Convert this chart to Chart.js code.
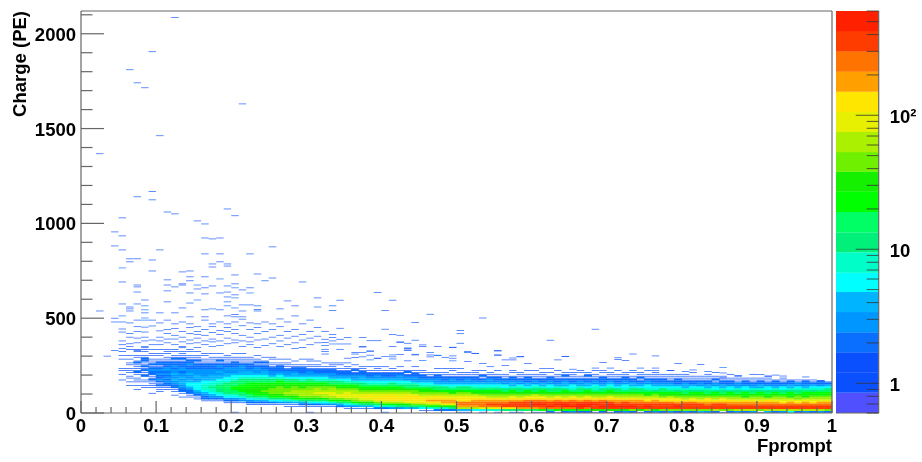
<!DOCTYPE html>
<html><head><meta charset="utf-8">
<style>html,body{margin:0;padding:0;background:#fff;overflow:hidden}
#wrap{position:relative;width:922px;height:462px}
canvas{position:absolute;top:0;filter:blur(0.4px)}</style>
<script src="https://cdn.jsdelivr.net/npm/chart.js@4"></script>
</head><body><div id="wrap"><canvas id="main" width="922" height="462" style="left:0"></canvas><canvas id="bar" width="86" height="462" style="left:836px"></canvas></div>
<script>
const xTicks=[0,0.1,0.2,0.3,0.4,0.5,0.6,0.7,0.8,0.9,1];
const yTicks=[0,500,1000,1500,2000];
const zTicks=[0.6,0.7,0.8,0.9,1,2,3,4,5,6,7,8,9,10,20,30,40,50,60,70,80,90,100,200,300,400,500,600];
const zContours=[0.6,0.85,1.2,1.7,2.4,3.4,4.8,6.7,9.5,13.4,19,27,38,53,75,106,150,212,300,424,600];
const zColors=['#5050ff','#0a50ff','#0a50ff','#0a6eff','#0096ff','#00b4ff','#00ffff','#00ffc8','#00f07a','#00ff64','#00ff00','#14f000','#6ef000','#aaf000','#e6f000','#ffe600','#ffa000','#ff7300','#ff3c00','#ff2000'];
const firstDenseColumn=5;
// each column: first entry = first row (10 PE rows), then counts going upward
const denseColumns=[
[17,1,0,0,1,0,1,1,0,0,0,0,1,0,1,0,1],
[14,1,0,1,0,1,1,0,1,1,1,0,1,1,0,1,0,1,0,0,1],
[12,1,0,1,0,1,1,1,0,1,2,1,1,1,1,2,1,0,1,1,0,1,1],
[13,1,1,0,1,1,0,2,1,1,2,1,2,1,1,2,2,1,1,0,1,1,1],
[10,1,0,0,1,1,1,1,2,1,1,2,2,3,2,1,2,1,1,1,0,1,1,0,1],
[11,1,1,1,2,1,2,3,2,2,3,2,3,2,1,2,2,1,1,0,1,1,0,1],
[12,1,1,2,2,3,2,3,2,3,2,3,3,2,2,2,1,1,1,0,1,1,1],
[9,1,0,1,1,2,2,3,3,4,3,3,4,3,3,2,3,2,2,1,2,1,1,0,1,1],
[8,1,0,1,2,2,3,3,4,4,3,4,3,3,2,3,3,2,2,2,1,2,1,1,1,1,0,1],
[8,1,1,2,2,3,4,6,6,4,4,3,3,4,3,3,2,2,3,2,2,1,1,1,0,1,1],
[7,1,1,2,3,4,6,6,6,6,4,3,4,4,3,3,3,2,2,2,1,2,1,1,1,0,1],
[6,1,2,2,3,4,6,8,8,8,6,6,4,4,3,3,3,3,2,2,2,1,1,1,0,1,1],
[6,1,2,3,4,6,8,8,11,8,8,6,4,4,4,3,3,3,2,2,2,1,1,1,1,0,1],
[6,1,2,3,6,8,11,11,16,11,8,8,6,4,4,3,4,3,2,3,2,1,2,1,1,0,1],
[5,1,2,3,6,8,11,16,16,16,16,11,8,6,6,4,4,3,3,3,2,2,1,1,1,1,1],
[0,1,0,0,0,0,1,2,3,6,8,16,16,22,22,16,16,11,8,6,6,4,3,3,3,2,2,2,1,1,1,0,1],
[5,1,3,4,8,11,16,22,22,22,22,16,16,11,8,6,4,4,3,3,3,2,1,1,1,1,0,1],
[4,1,2,3,6,11,16,22,32,32,22,22,22,16,11,8,6,4,4,3,2,2,2,1,1,1,1],
[4,1,2,4,8,11,22,32,32,32,32,22,22,16,11,8,6,4,3,3,3,2,1,2,1,1,0,1],
[4,1,2,4,8,16,22,32,45,32,32,32,22,16,11,8,6,4,4,3,2,2,1,2,1,0,1],
[4,1,2,6,11,22,32,45,45,45,32,32,22,16,11,8,4,3,3,2,2,1,1,1,0,1,1],
[4,1,3,6,11,22,32,45,45,45,45,32,22,22,16,8,6,4,3,2,2,2,1,1,0,1],
[3,1,1,3,8,16,32,45,63,45,45,32,32,22,16,11,6,4,3,3,2,1,1,1,1,0,1],
[3,1,1,4,8,22,32,45,63,63,45,45,32,22,16,11,6,4,4,3,2,2,1,1,0,1],
[3,1,2,4,11,22,45,63,63,63,45,32,32,22,16,8,6,4,3,2,2,2,1,1,0,0,1],
[0,1,0,0,1,2,6,11,32,45,63,63,63,45,45,32,22,16,11,6,4,3,3,2,1,1,1,0,1,1],
[3,1,2,6,16,32,45,63,90,63,63,45,32,22,16,8,6,4,3,2,2,1,1,1,0,1],
[3,1,3,6,16,32,63,63,90,63,45,45,32,22,11,8,6,4,3,2,2,1,1,0,1],
[3,1,3,8,22,45,63,90,90,63,63,45,32,16,11,8,4,3,3,2,2,1,1,1,1],
[3,2,4,11,22,45,90,90,63,63,45,32,22,16,11,6,4,3,2,2,1,1,0,1,1],
[2,1,3,6,16,32,63,90,90,90,63,45,32,22,16,8,6,4,3,2,2,1,1,1,0,1],
[2,1,3,8,22,45,63,90,90,63,63,45,32,22,11,8,4,3,3,2,1,2,1,0,1],
[2,1,4,11,32,63,90,90,90,63,45,32,22,16,11,6,4,4,3,2,2,1,1,1],
[2,1,4,11,32,63,90,125,90,63,45,32,22,16,8,6,4,3,2,2,1,1,0,1],
[2,2,6,16,45,90,125,90,90,63,45,32,22,16,8,6,4,3,3,2,1,1,1,1],
[0,1,0,2,8,22,63,90,125,125,90,63,45,32,22,11,8,6,4,3,2,2,1,1,0,1],
[2,3,8,22,63,125,125,125,90,63,45,32,22,16,11,6,4,3,2,2,1,1,1],
[2,3,11,32,63,125,125,90,90,63,45,32,22,11,8,6,4,3,3,2,1,1,0,1],
[2,4,11,32,90,125,125,125,90,63,45,32,16,11,8,6,3,3,2,1,2,1],
[2,4,16,45,90,125,125,125,90,45,45,22,16,11,8,4,3,3,2,2,1,1,0,1],
[1,1,6,16,45,125,125,125,90,63,45,32,22,16,8,6,4,3,2,2,1,1,1],
[1,1,6,22,63,125,175,125,90,63,45,32,22,11,8,6,4,3,2,1,1,1],
[1,2,8,22,63,125,175,125,125,63,45,32,16,11,8,4,3,3,2,2,1,1,0,1],
[1,2,8,32,90,175,175,125,90,63,45,22,16,11,6,4,3,2,2,1,1,1,0,1],
[1,2,11,32,90,175,175,125,90,63,32,22,16,8,6,4,3,3,2,1,1,0,1,1],
[0,1,4,63,175,250,250,125,125,90,63,45,32,16,11,6,4,3,2,2,1,1,1,0,1],
[0,1,4,63,175,250,250,125,125,90,63,45,22,16,11,6,4,3,3,2,1,1,1],
[0,0,6,63,175,250,250,175,125,90,63,32,22,16,8,6,4,3,2,2,1,1,1,1],
[0,1,6,90,250,250,250,175,125,90,45,32,22,11,8,6,4,3,2,1,2,1,0,1],
[1,8,90,250,350,250,175,125,63,45,32,22,16,8,6,4,3,3,2,1,1,1],
[0,1,8,125,250,350,250,175,125,63,45,32,22,11,8,6,4,3,2,2,1,1,0,1],
[0,0,11,125,350,350,250,175,90,63,45,32,16,11,6,6,3,3,2,1,1,1],
[0,1,11,125,350,350,350,175,125,90,45,32,22,11,8,4,4,3,2,2,1,0,1,1],
[0,1,11,175,350,350,350,175,125,63,45,32,16,11,8,6,3,3,2,1,1,1,1],
[0,0,16,175,350,350,350,250,125,90,45,32,22,11,6,4,4,2,2,2,1,1,0,1],
[0,1,16,175,350,500,350,250,125,90,63,32,16,11,8,6,3,3,2,1,1,1,0,1],
[0,1,22,250,350,500,350,250,125,90,45,32,22,11,8,4,4,2,2,1,1,1,1],
[0,2,16,250,500,350,350,175,125,63,45,32,16,11,6,6,3,3,2,2,1,0,1],
[0,1,22,250,350,500,350,250,125,90,45,22,16,11,8,4,3,2,2,1,1,1,0,1],
[0,2,22,250,500,500,350,175,125,63,45,32,22,11,6,4,4,3,2,1,2,1,1],
[0,3,22,250,500,350,350,250,125,90,45,32,16,8,6,6,3,2,2,1,1,1,1],
[0,2,32,350,500,500,350,175,125,63,45,22,16,11,8,4,3,3,2,1,1,0,1,1],
[0,2,22,250,500,500,350,250,125,90,45,32,22,11,6,4,4,2,2,1,2,1,1],
[0,1,32,350,350,500,350,175,125,63,45,32,16,8,8,6,3,3,2,1,1,1,0,1],
[0,2,32,350,500,350,350,250,125,63,45,22,16,11,6,4,3,2,2,2,1,0,1,1],
[0,1,32,350,500,500,350,175,125,90,45,32,22,11,8,6,4,3,2,1,1,1,1],
[0,2,32,350,500,350,250,175,125,63,45,32,16,11,6,4,3,2,2,1,1,1,0,1],
[0,3,32,350,500,350,350,175,90,63,45,22,16,8,6,6,3,3,2,2,1,1,1],
[0,2,45,350,500,350,250,175,125,63,45,32,16,11,8,4,4,2,2,1,1,0,1,1],
[0,1,32,350,350,350,250,175,90,63,45,22,16,11,6,4,3,2,1,2,1,1,1],
[0,2,45,350,500,350,250,125,90,63,32,22,16,8,6,6,3,3,2,1,1,1,0,1],
[0,3,32,350,350,350,250,175,90,63,45,22,11,8,6,4,3,2,2,1,1,1,1],
[0,2,45,350,350,350,250,125,90,45,32,22,16,11,6,4,3,2,2,1,1,1],
[0,3,45,350,350,350,250,125,90,63,32,22,16,8,6,4,3,2,1,1,1,1,0,1],
[0,2,45,350,500,350,175,125,90,45,32,22,11,8,6,4,2,2,2,1,1,1],
[0,3,45,350,350,350,250,125,63,45,32,16,16,8,4,4,3,2,1,1,1,1],
[0,2,45,350,350,350,250,125,90,45,32,22,11,8,6,4,2,2,1,1,1,0,1],
[0,4,45,350,350,350,175,125,63,45,32,22,11,8,6,3,3,2,1,1,1],
[0,3,45,350,350,250,175,125,90,45,32,16,16,8,4,4,2,2,1,1,1,1],
[0,2,63,350,350,350,175,125,63,45,22,22,11,6,6,3,3,1,2,1,1,0,1],
[0,1,45,350,350,350,175,125,90,45,32,16,11,8,4,4,2,2,1,1,1],
[0,2,45,350,350,250,175,125,63,45,22,22,11,6,6,3,2,2,1,1,0,1],
[0,3,63,350,350,250,175,90,63,45,32,16,11,8,4,3,3,1,1,1,1],
[0,2,63,350,350,250,175,125,63,32,22,22,11,6,6,3,2,2,1,1],
[0,3,63,350,350,250,175,90,63,45,32,16,11,8,4,3,2,1,1,1,0,1],
[0,1,45,350,350,250,175,90,63,45,22,22,11,8,4,4,2,2,1,1],
[0,4,63,350,350,250,175,125,63,32,22,16,11,6,6,3,2,1,1,1,1],
[0,2,63,350,350,250,175,90,63,45,32,22,11,8,4,3,2,2,1],
[0,3,63,350,350,250,125,90,63,45,22,16,11,6,6,3,2,1,1,1],
[0,6,63,350,350,250,175,90,63,32,22,22,11,8,4,4,2,2,1],
[0,2,63,350,350,250,125,90,45,45,32,16,11,8,6,3,3,1,1],
[0,3,63,350,350,250,175,90,63,32,22,22,16,8,4,3,2,2,1],
[0,2,63,350,350,250,125,90,63,45,32,22,11,8,6,4,2,1,1],
[0,3,63,350,350,250,175,90,63,45,22,22,16,8,6,3,2,2],
[0,2,45,350,350,250,175,90,63,45,32,22,16,11,6,4,2,1]
];
// isolated entries: [column, charge (PE), count]
const sparseCells=[
[12,2086,1],[9,1905,1],[6,1810,1],[7,1741,1],[8,1715,1],[21,1630,1],[10,1462,1],[2,1367,1],
[9,1168,1],[7,1140,1],[9,1124,1],[11,1060,1],[12,1050,1],[19,1076,1],[20,1040,1],[5,1029,1],[15,1013,1],[16,997,1],
[4,955,1],[5,934,1],[16,923,1],[17,918,1],[18,923,1],[4,881,1],[5,860,1],[10,860,1],[25,876,1],[18,839,1],[22,839,1],[16,839,1],
[6,813,1],[7,813,1],[9,807,1],[6,797,1],[17,786,1],[17,770,1],[18,797,1],[19,786,1],[19,775,1],[5,765,2],[9,749,1],[13,744,1],[14,749,1],
[14,718,1],[14,697,1],[20,728,1],[23,733,1],[25,712,1],[16,718,1],[18,707,2],[11,702,1],[5,691,1],[13,681,1],[13,675,1],[24,697,1],[29,691,1],
[7,675,1],[7,665,1],[7,638,1],[11,675,1],[12,665,1],[15,675,2],[15,654,1],[16,660,1],[17,670,1],[19,670,1],[19,638,1],[18,633,1],
[20,681,1],[20,660,2],[21,649,1],[22,660,1],[22,633,2],[11,644,1],[14,633,1],[16,628,1],[19,612,1],[20,623,1],[20,607,2],[31,607,1],
[27,591,1],[28,565,1],[31,559,1],[8,596,1],[7,575,1],[8,565,2],[5,575,1],[6,559,1],[6,549,1],[6,538,1],[8,544,2],[11,586,1],[13,554,1],[14,580,1],
[15,596,2],[17,549,2],[16,544,1],[18,544,1],[19,586,1],[19,565,2],[20,554,2],[21,570,1],[22,570,1],[23,565,1],[23,545,1],[23,538,1],[21,538,1],[26,549,1],
[2,538,1],[10,528,1],[12,528,1],[8,528,1],[5,512,2],[8,501,2],[14,507,1],[16,507,1],[19,512,1],[20,520,1],[20,507,1],[21,507,1],[28,512,1],[26,496,1],
[3,300,1],[4,500,1],[4,480,1],[4,330,1],[5,480,1],[5,443,1],[5,427,1],[5,380,1],[5,360,1],[5,340,1],
[6,475,1],[6,420,1],[6,400,1],[6,365,1],[6,350,1],[7,490,1],[7,455,1],[7,430,1],[7,395,1],[7,370,1],[7,330,1],
[8,490,2],[8,453,1],[8,427,1],[8,400,1],[8,380,1],[8,350,1],[9,490,1],[9,459,1],[9,385,1],[9,360,1],[10,475,1],[10,433,1],[10,400,1],[10,380,1],[10,360,1],
[11,490,1],[11,440,1],[11,420,1],[11,390,1],[11,370,1],[12,470,1],[12,445,1],[12,410,1],[12,390,1],[12,360,1],[13,480,1],[13,430,1],[13,400,1],[13,375,1],[13,350,1],
[14,470,1],[14,450,1],[14,420,1],[14,385,1],[14,365,1],[15,455,1],[15,430,1],[15,415,1],[15,395,1],[15,370,1],[15,345,1],[16,490,1],[16,440,1],[16,410,1],[16,380,1],[16,360,1],
[17,470,1],[17,455,1],[17,425,1],[17,390,1],[17,375,1],[17,350,1],[18,480,1],[18,435,1],[18,415,1],[18,380,1],[18,355,1],[19,470,1],[19,450,1],[19,430,1],[19,395,1],[19,365,1],
[20,480,1],[20,440,1],[20,420,1],[20,385,1],[20,370,1],[21,495,1],[21,460,1],[21,410,1],[21,380,1],[21,350,1],[22,475,1],[22,440,1],[22,400,1],[22,375,1],[22,360,1],
[23,470,1],[23,450,1],[23,420,1],[23,385,1],[23,345,1],[24,480,1],[24,430,1],[24,390,1],[24,355,1],[25,470,1],[25,440,1],[25,400,1],[25,365,1],[26,455,1],[26,410,1],[26,380,1],[26,350,1],
[27,480,1],[27,430,1],[27,395,1],[27,360,1],[28,440,1],[28,405,1],[28,370,1],[28,340,1],[29,470,1],[29,415,1],[29,385,1],[29,345,1],[30,490,1],[30,430,1],[30,395,1],[30,360,1],[31,450,1],[31,405,1],[31,370,1],
[39,635,1],[34,595,1],[41,595,1],[33,565,1],[33,540,1],[40,540,1],[46,521,1],[53,501,1],[44,477,1],[34,447,1],[40,442,1],[50,436,1],[50,418,1],[68,442,1],[32,431,1],[33,415,1],[33,399,1],[34,389,1],[35,398,1],[37,398,1],[41,415,1],[42,410,1],
[39,381,1],[38,381,1],[44,384,1],[62,384,1],[42,375,1],[43,368,1],[45,359,1],[50,368,1],[32,389,1],[32,371,1],[32,357,1],[32,336,1],[32,324,1],[32,311,1],[33,380,1],[33,364,2],[34,364,1],[34,336,1],[35,364,1],[35,289,1],
[36,320,1],[36,311,1],[37,348,1],[37,318,1],[37,296,1],[38,326,1],[38,305,1],[39,289,1],[40,299,1],[41,350,1],[41,306,2],[41,296,1],[42,371,1],[42,308,1],[43,343,1],[43,331,1],[44,310,1],[46,320,1],[46,296,1],[47,350,1],[47,305,3],[48,294,1],[49,347,1],[49,301,1],[49,289,1],[51,320,1],[52,313,1],[55,327,1],[55,305,1],[58,296,1],[64,299,1],[57,290,1],[71,291,1],
[37,350,1],[43,341,1],[43,332,1],[45,350,1],[49,345,1],[38,327,1],[36,292,1],[38,280,2],[39,289,1],[41,285,1],[43,275,1],[44,306,1],[45,276,2],[46,306,1],[47,303,1],[49,275,2],[51,324,1],[52,315,1],[55,329,1],[55,306,1],[53,262,1],[51,271,1],[54,244,1],[56,280,1],[56,250,1],[57,280,1],[58,297,1],[59,262,1],[61,235,1],[62,235,1],[63,280,1],[64,297,1],[65,231,1],
[73,311,1],[69,267,1],[71,283,1],[72,276,1],[76,301,1],[68,237,1],[70,237,1],[74,237,1],[79,262,1],[82,255,1],[76,237,1],[76,224,1],[78,223,1],[80,218,1],[81,227,1],[83,218,1],[85,239,2],[85,211,1],[85,185,1],[87,197,1],[90,203,1],[91,195,1],[92,200,1],[93,195,1],[96,190,1],[98,171,1]
];
const rowHeight=10, singleHeight=3.7, sparseHeight=3.4, binWidth=0.01;
function colourOf(n){for(let i=zColors.length-1;i>=0;i--){if(n>=zContours[i])return zColors[i];}return '#fff';}
const histBars=[];
denseColumns.forEach((col,k)=>{
  const c=k+firstDenseColumn, start=col[0];
  col.slice(1).forEach((n,j)=>{ if(n>0){const r=start+j; const h=n===1?singleHeight:rowHeight; histBars.push({x:(c+.5)*binWidth,y:[r*rowHeight+2.3,r*rowHeight+2.3+h-(n===1?0:2.3)],n,dense:n>1});} });
});
sparseCells.forEach(([c,q,n])=>histBars.push({x:(c+.5)*binWidth,y:[q-sparseHeight/2,q+sparseHeight/2],n,dense:false}));
const font={family:'"Liberation Sans",Arial,sans-serif',weight:'bold',size:18.5};
const inTicks=(cfg)=>({id:'inTicks',afterDatasetsDraw(ch){
  const g=ch.ctx,a=ch.chartArea; g.save();
  g.strokeStyle=cfg.color;g.lineWidth=cfg.width;
  (cfg.frame||[]).forEach(s=>{g.beginPath();
    if(s==='top'){g.moveTo(a.left,a.top);g.lineTo(a.right,a.top);}
    if(s==='right'){g.moveTo(a.right,a.top);g.lineTo(a.right,a.bottom);}
    if(s==='left'){g.moveTo(a.left,a.top);g.lineTo(a.left,a.bottom);}
    if(s==='bottom'){g.moveTo(a.left,a.bottom);g.lineTo(a.right,a.bottom);}
    g.stroke();});
  g.strokeStyle=cfg.tick||cfg.color;g.lineWidth=cfg.tickWidth||cfg.width;
  cfg.marks(ch).forEach(m=>{g.beginPath();
    if(m.axis==='x'){const p=ch.scales.x.getPixelForValue(m.v);g.moveTo(p,a.bottom);g.lineTo(p,a.bottom-m.len);}
    else if(m.axis==='y'){const p=ch.scales.y.getPixelForValue(m.v);g.moveTo(a.left,p);g.lineTo(a.left+m.len,p);}
    else {const p=ch.scales.y.getPixelForValue(m.v);g.moveTo(a.right,p);g.lineTo(a.right-m.len,p);}
    g.stroke();});
  g.restore();
}});
const xMinor=[],yMinor=[];
for(let i=0;i<=50;i++)xMinor.push(i/50);
for(let i=0;i<=21;i++)yMinor.push(i*100);
new Chart(document.getElementById('main'),{
  type:'bar',
  data:{datasets:[{data:histBars,backgroundColor:c=>colourOf(c.raw.n),borderWidth:0,inflateAmount:c=>c.raw.dense?0.3:0,grouped:false,barPercentage:1,categoryPercentage:1}]},
  options:{responsive:false,animation:false,devicePixelRatio:1,events:[],
    layout:{padding:{top:11,right:90,left:0,bottom:0}},
    plugins:{legend:{display:false},tooltip:{enabled:false}},
    scales:{
      x:{type:'linear',offset:false,min:0,max:1,grid:{display:false,drawTicks:false},border:{display:false},
        afterFit(s){s.height=49;s.paddingLeft=0;s.paddingRight=0;},
        afterBuildTicks(s){s.ticks=xTicks.map(v=>({value:v}));},
        ticks:{font,color:'#000',padding:3,maxRotation:0,autoSkip:false,callback:v=>String(v)},
        title:{display:true,text:'Fprompt',align:'end',font,color:'#000',padding:{top:0,bottom:4}}},
      y:{type:'linear',min:0,max:2120,grid:{display:false,drawTicks:false},border:{display:false},
        afterFit(s){s.width=81;s.paddingTop=0;s.paddingBottom=0;},
        afterBuildTicks(s){s.ticks=yTicks.map(v=>({value:v}));},
        ticks:{font,color:'#000',padding:5,labelOffset:2,autoSkip:false,callback:v=>String(v)},
        title:{display:true,text:'Charge (PE)',align:'end',font,color:'#000',padding:{top:10,bottom:0}}}
    }
  },
  plugins:[inTicks({color:'#666',width:1.2,frame:['top','right','left','bottom'],marks:()=>[
    ...xMinor.map(v=>({axis:'x',v,len:xTicks.some(t=>Math.abs(t-v)<1e-9)?12:6})),
    ...yMinor.map(v=>({axis:'y',v,len:yTicks.includes(v)?23:11.5}))]})]
});
const zBars=zColors.map((col,i)=>({x:0.5,y:[zContours[i],zContours[i+1]],col}));
new Chart(document.getElementById('bar'),{
  type:'bar',
  data:{datasets:[{data:zBars,backgroundColor:c=>c.raw.col,borderWidth:0,inflateAmount:0.1,grouped:false,barPercentage:1,categoryPercentage:1}]},
  options:{responsive:false,animation:false,devicePixelRatio:1,events:[],
    layout:{padding:{top:11,bottom:49,left:0,right:0}},
    plugins:{legend:{display:false},tooltip:{enabled:false}},
    scales:{
      x:{type:'linear',display:false,offset:false,min:0,max:1},
      y:{type:'logarithmic',position:'right',min:0.6,max:600,grid:{display:false,drawTicks:false},border:{display:false},
        afterFit(s){s.width=43.3;s.paddingTop=0;s.paddingBottom=0;},
        afterBuildTicks(s){s.ticks=zTicks.map(v=>({value:v}));},
        ticks:{font,color:'#000',padding:11,labelOffset:3,autoSkip:false,callback:v=>v===1?'1':v===10?'10':v===100?'10²':''}}
    }
  },
  plugins:[inTicks({color:'#666',width:1.2,tick:'#333',tickWidth:0.8,frame:['right','bottom'],marks:()=>zTicks.map(v=>({axis:'z',v,len:[1,10,100].includes(v)?23:12}))})]
});
</script></body></html>
